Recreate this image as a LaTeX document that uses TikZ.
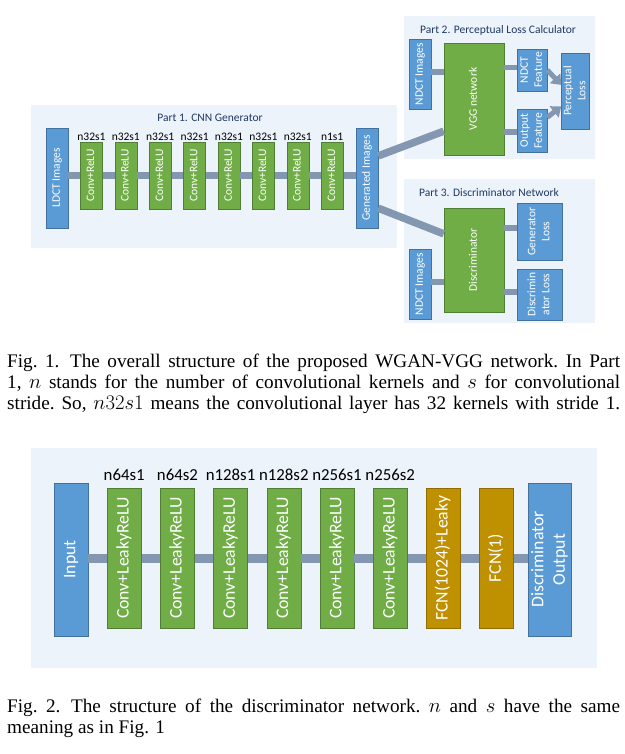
\documentclass[tikz,border=0pt]{standalone}
\usepackage{fontspec,graphicx}
\setmainfont{Liberation Serif}
\newfontfamily\calibri{Carlito}
\usetikzlibrary{arrows.meta,calc}
\definecolor{boxblue}{RGB}{91,155,213}
\definecolor{blueline}{RGB}{65,113,156}
\definecolor{boxgreen}{RGB}{112,173,71}
\definecolor{greenline}{RGB}{80,126,50}
\definecolor{boxgold}{RGB}{191,144,0}
\definecolor{goldline}{RGB}{143,107,0}
\definecolor{panelbg}{RGB}{236,243,250}
\definecolor{linkgray}{RGB}{132,151,176}
\definecolor{titleblue}{RGB}{31,56,100}
\tikzstyle{blk}=[rectangle,inner sep=0,text=white,line width=0.6pt]
\tikzstyle{bluebox}=[blk,fill=boxblue,draw=blueline]
\tikzstyle{greenbox}=[blk,fill=boxgreen,draw=greenline]
\tikzstyle{goldbox}=[blk,fill=boxgold,draw=goldline]
\tikzstyle{small}=[font=\calibri\fontsize{11.5}{14}\selectfont]
\tikzstyle{large}=[font=\calibri\fontsize{17.7}{21.5}\selectfont]
\tikzstyle{parttitle}=[font=\calibri\fontsize{11.5}{14}\selectfont,text=titleblue,inner sep=0]
\tikzstyle{link}=[linkgray,line width=6pt]
\tikzstyle{fatarrow}=[linkgray,line width=5pt,-{Triangle[length=9pt,width=14pt]}]
\tikzstyle{caption}=[anchor=base west,inner sep=0,font=\fontsize{19.2}{21}\selectfont]
\newcommand{\vtext}[1]{\rotatebox{90}{\begin{tabular}{@{}c@{}}#1\end{tabular}}}
\newcommand{\capline}[1]{\makebox[613pt][s]{\frenchspacing#1}}

\begin{document}
\begin{tikzpicture}[x=1pt,y=-1pt]
\useasboundingbox (0,0) rectangle (624,754);

\fill[panelbg] (31,105) rectangle (397,248);
\fill[panelbg] (404,16) rectangle (595,159);
\fill[panelbg] (404,179) rectangle (595,323);
\fill[panelbg] (31,448) rectangle (597,668);

\node[parttitle] (title1) at (210,118) {Part 1. CNN Generator};
\node[parttitle] (title2) at (498,30) {Part 2. Perceptual Loss Calculator};
\node[parttitle] (title3) at (489,193) {Part 3. Discriminator Network};

\node[bluebox,small,minimum width=22pt,minimum height=100pt] (ldct) at (57,178) {\vtext{LDCT Images}};
\foreach \i/\lab in {1/n32s1,2/n32s1,3/n32s1,4/n32s1,5/n32s1,6/n32s1,7/n32s1,8/n1s1}{
	\node[greenbox,small,minimum width=22pt,minimum height=67pt] (c\i) at (57+34.4*\i,175.5) {\vtext{Conv+ReLU}};
	\node[small,inner sep=0] (l\i) at (57+34.4*\i,137) {\lab};
}
\node[bluebox,small,minimum width=22pt,minimum height=100pt] (gen) at (367,178) {\vtext{Generated Images}};
\draw[link] (ldct.east |- c1) -- (c1.west);
\foreach \i [count=\j from 2] in {1,...,7}{
	\draw[link] (c\i) -- (c\j);}
\draw[link] (c8.east) -- (gen.west |- c8);

\node[bluebox,small,minimum width=22pt,minimum height=70pt] (ndct2) at (420,74) {\vtext{NDCT Images}};
\node[greenbox,small,minimum width=60pt,minimum height=112pt] (vgg) at (474,99) {\vtext{VGG network}};
\node[bluebox,small,minimum width=30pt,minimum height=42pt] (nfeat) at (532,70) {\vtext{NDCT\\Feature}};
\node[bluebox,small,minimum width=30pt,minimum height=43pt] (ofeat) at (532,130.5) {\vtext{Output\\Feature}};
\node[bluebox,small,minimum width=23pt,minimum height=76pt] (ploss) at (575.5,91) {\vtext{Perceptual\\Loss}};
\draw[link] (ndct2.east |- 0,72) -- (vgg.west |- 0,72);
\draw[link,line width=5pt] (vgg.east |- 0,68) -- (nfeat.west |- 0,68);
\draw[link] (vgg.east |- 0,132) -- (ofeat.west |- 0,132);
\draw[fatarrow] (nfeat.east) -- ($(ploss.north west)!0.42!(ploss.south west)$);
\draw[fatarrow] ($(ofeat.north east)!0.2!(ofeat.south east)$) -- ($(ploss.north west)!0.7!(ploss.south west)$);

\node[greenbox,small,minimum width=60pt,minimum height=104pt] (disc) at (474,260) {\vtext{Discriminator}};
\node[bluebox,small,minimum width=22pt,minimum height=70pt] (ndct3) at (420,284) {\vtext{NDCT Images}};
\node[bluebox,small,minimum width=45pt,minimum height=57pt] (gloss) at (539.5,231.5) {\vtext{Generator\\Loss}};
\node[bluebox,small,minimum width=45pt,minimum height=51pt] (dloss) at (539.5,294.5) {\vtext{Discrimin\\ator Loss}};
\draw[link] (ndct3.east |- 0,282) -- (disc.west |- 0,282);
\draw[link] (disc.east |- 0,228) -- (gloss.west |- 0,228);
\draw[link] (disc.east |- 0,292) -- (dloss.west |- 0,292);

\draw[link,line width=7.5pt] ($(gen.north east)!0.28!(gen.south east)$) -- ($(vgg.north west)!0.786!(vgg.south west)$);
\draw[link,line width=7.5pt] ($(gen.north east)!0.8!(gen.south east)$) -- ($(disc.north west)!0.25!(disc.south west)$);

\node[caption] (cap1a) at (7,367) {\capline{Fig. 1.\hspace{0.55em}The overall structure of the proposed WGAN-VGG network. In Part}};
\node[caption] (cap1b) at (7,388) {\capline{1, $n$ stands for the number of convolutional kernels and $s$ for convolutional}};
\node[caption] (cap1c) at (7,409) {\capline{stride. So, $n32s1$ means the convolutional layer has 32 kernels with stride 1.}};

\node[bluebox,large,minimum width=34pt,minimum height=153pt] (input) at (71,559.5) {\vtext{Input}};
\foreach \i/\lab in {1/n64s1,2/n64s2,3/n128s1,4/n128s2,5/n256s1,6/n256s2}{
	\node[greenbox,large,minimum width=34pt,minimum height=140pt] (d\i) at (71+53.2*\i,558) {\vtext{Conv+LeakyReLU}};
	\node[font=\calibri\fontsize{16.8}{20}\selectfont,inner sep=0] (m\i) at (71+53.2*\i,475) {\lab};
}
\node[goldbox,large,minimum width=34pt,minimum height=140pt] (d7) at (443.4,558) {\vtext{FCN(1024)+Leaky}};
\node[goldbox,large,minimum width=34pt,minimum height=140pt] (d8) at (496.6,558) {\vtext{FCN(1)}};
\node[bluebox,large,minimum width=34pt,minimum height=153pt] (dout) at (549.8,559.5) {\vtext{Discriminator\\Output}};
\draw[link,line width=9pt] (input.east |- d1) -- (d1.west);
\foreach \i [count=\j from 2] in {1,...,7}{
	\draw[link,line width=9pt] (d\i) -- (d\j);}
\draw[link,line width=9pt] (d8.east) -- (dout.west |- d8);

\node[caption] (cap2a) at (7,712) {\capline{Fig. 2.\hspace{0.55em}The structure of the discriminator network. $n$ and $s$ have the same}};
\node[caption] (cap2b) at (7,733) {meaning as in Fig. 1};
\end{tikzpicture}
\end{document}
